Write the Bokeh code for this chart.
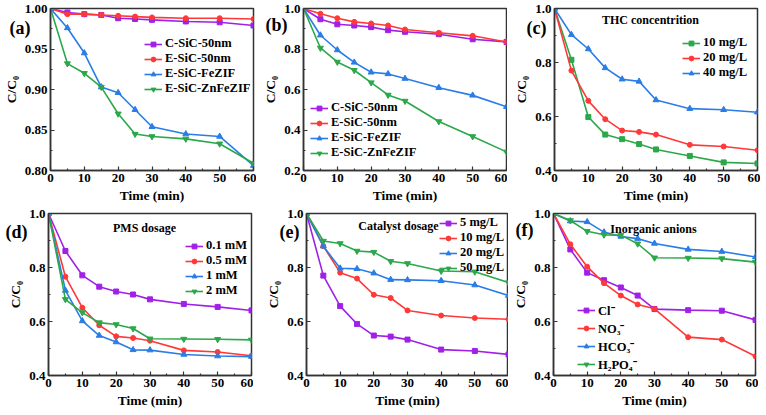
from bokeh.plotting import figure
from bokeh.models import Legend, LegendItem, Label, Title, FixedTicker, NumeralTickFormatter, Range1d
from bokeh.layouts import column, row
from bokeh.embed import file_html
from bokeh.resources import INLINE

FONT = "Liberation Serif"

time_min = [0, 5, 10, 15, 20, 25, 30, 40, 50, 60]

# (a)
a_labels = ["C-SiC-50nm", "E-SiC-50nm", "E-SiC-FeZIF", "E-SiC-ZnFeZIF"]
a_csic = [1.000, 0.995, 0.993, 0.992, 0.988, 0.987, 0.986, 0.984, 0.983, 0.979]
a_esic = [1.000, 0.993, 0.993, 0.992, 0.991, 0.990, 0.989, 0.988, 0.988, 0.987]
a_fezif = [1.000, 0.976, 0.945, 0.903, 0.896, 0.875, 0.854, 0.845, 0.842, 0.806]
a_znfezif = [1.000, 0.932, 0.920, 0.903, 0.870, 0.845, 0.842, 0.839, 0.833, 0.809]

# (b)
b_labels = ["C-SiC-50nm", "E-SiC-50nm", "E-SiC-FeZIF", "E-SiC-ZnFeZIF"]
b_csic = [1.000, 0.947, 0.922, 0.916, 0.908, 0.893, 0.885, 0.873, 0.848, 0.835]
b_esic = [1.000, 0.974, 0.952, 0.934, 0.926, 0.916, 0.896, 0.880, 0.865, 0.835]
b_fezif = [1.000, 0.868, 0.795, 0.734, 0.685, 0.677, 0.654, 0.609, 0.571, 0.515]
b_znfezif = [1.000, 0.805, 0.736, 0.695, 0.634, 0.573, 0.543, 0.442, 0.368, 0.292]

# (c) THC concentration
c_labels = ["10 mg/L", "20 mg/L", "40 mg/L"]
c_10 = [1.000, 0.810, 0.598, 0.533, 0.516, 0.498, 0.478, 0.454, 0.430, 0.426]
c_20 = [1.000, 0.770, 0.658, 0.590, 0.548, 0.543, 0.533, 0.495, 0.489, 0.475]
c_40 = [1.000, 0.903, 0.850, 0.780, 0.738, 0.730, 0.661, 0.629, 0.625, 0.616]

# (d) PMS dosage
d_labels = ["0.1 mM", "0.5 mM", "1 mM", "2 mM"]
d_01 = [1.000, 0.861, 0.771, 0.729, 0.711, 0.700, 0.682, 0.665, 0.654, 0.641]
d_05 = [1.000, 0.766, 0.651, 0.586, 0.545, 0.539, 0.529, 0.493, 0.487, 0.473]
d_1 = [1.000, 0.715, 0.602, 0.548, 0.524, 0.495, 0.494, 0.478, 0.472, 0.470]
d_2 = [1.000, 0.682, 0.633, 0.596, 0.589, 0.574, 0.536, 0.535, 0.534, 0.532]

# (e) Catalyst dosage
e_labels = ["5 mg/L", "10 mg/L", "20 mg/L", "50 mg/L"]
e_5 = [1.000, 0.770, 0.657, 0.591, 0.548, 0.544, 0.533, 0.496, 0.491, 0.478]
e_10 = [1.000, 0.879, 0.781, 0.759, 0.699, 0.687, 0.641, 0.622, 0.613, 0.608]
e_20 = [1.000, 0.879, 0.797, 0.795, 0.779, 0.755, 0.754, 0.751, 0.735, 0.696]
e_50 = [1.000, 0.898, 0.889, 0.861, 0.857, 0.823, 0.815, 0.787, 0.784, 0.744]

# (f) Inorganic anions
f_labels = ["Cl\u207b", "NO\u2083\u207b", "HCO\u2083\u207b", "H\u2082PO\u2084\u207b"]
f_cl = [1.000, 0.867, 0.781, 0.753, 0.726, 0.696, 0.646, 0.642, 0.640, 0.606]
f_no3 = [1.000, 0.886, 0.803, 0.742, 0.696, 0.663, 0.647, 0.542, 0.533, 0.471]
f_hco3 = [1.000, 0.972, 0.969, 0.931, 0.915, 0.907, 0.889, 0.867, 0.859, 0.839]
f_h2po4 = [1.000, 0.974, 0.934, 0.921, 0.920, 0.888, 0.836, 0.835, 0.833, 0.820]

x_ticks = [0, 10, 20, 30, 40, 50, 60]
x_minor = [5, 15, 25, 35, 45, 55]

PURPLE = "#A020E8"
RED = "#FF3838"
BLUE = "#2A7DE6"
GREEN = "#2BA84A"

STY = {
    "purple": (PURPLE, "square", 5),
    "red": (RED, "circle", 5),
    "blue": (BLUE, "triangle", 6),
    "green": (GREEN, "inverted_triangle", 6),
    "green_sq": (GREEN, "square", 5),
}


def panel(tag, series, labels, styles, ylim, yticks, yminor, yfmt,
          leg_x, leg_y, leg_h, lab_dx, lab_dy, title=None, title_x=0, title_dy=0,
          fw=203, fh=162, bl=47, br=3, bt=8, bb=35):
    p = figure(frame_width=fw, frame_height=fh, output_backend="svg",
               toolbar_location=None, min_border_left=bl, min_border_right=br,
               min_border_top=bt, min_border_bottom=bb,
               x_range=Range1d(0, 60), y_range=Range1d(*ylim))
    p.background_fill_color = "white"
    p.border_fill_color = "white"
    p.grid.visible = False
    p.outline_line_color = "#333333"
    p.outline_line_width = 1.5
    p.xaxis.ticker = FixedTicker(ticks=x_ticks, minor_ticks=x_minor)
    p.yaxis.ticker = FixedTicker(ticks=yticks, minor_ticks=yminor)
    p.yaxis.formatter = NumeralTickFormatter(format=yfmt)
    p.xaxis.axis_label = "Time (min)"
    p.yaxis.axis_label = "C/C\u2080"
    for ax in (p.xaxis[0], p.yaxis[0]):
        ax.axis_line_color = "#333333"
        ax.axis_line_width = 1.5
        ax.major_tick_in = 4
        ax.major_tick_out = 0
        ax.minor_tick_in = 2
        ax.minor_tick_out = 0
        ax.major_tick_line_color = "#333333"
        ax.minor_tick_line_color = "#333333"
        ax.major_tick_line_width = 1.2
        ax.minor_tick_line_width = 1.2
        ax.major_label_text_font = FONT
        ax.major_label_text_font_style = "bold"
        ax.major_label_text_font_size = "13px"
        ax.major_label_text_color = "black"
        ax.axis_label_text_font = FONT
        ax.axis_label_text_font_style = "bold"
        ax.axis_label_text_font_size = "13.5px"
        ax.axis_label_text_color = "black"
        ax.major_label_standoff = 3
        ax.axis_label_standoff = 3
    items = []
    for ys, lab, sk in zip(series, labels, styles):
        col, mk, sz = STY[sk]
        l = p.line(time_min, ys, line_color=col, line_width=1.6)
        s = p.scatter(time_min, ys, marker=mk, size=sz, fill_color=col, line_color=col)
        items.append(LegendItem(label=lab, renderers=[l, s]))
    leg = Legend(items=items, location=(leg_x, leg_y))
    leg.background_fill_alpha = 0
    leg.border_line_alpha = 0
    leg.padding = 0
    leg.margin = 0
    leg.spacing = 0
    leg.glyph_width = 18
    leg.glyph_height = 12
    leg.label_height = leg_h
    leg.label_standoff = 3
    leg.label_text_font = FONT
    leg.label_text_font_style = "bold"
    leg.label_text_font_size = "12.5px"
    leg.label_text_color = "black"
    leg.label_text_baseline = "middle"
    p.add_layout(leg)
    # panel tag, placed through a title so it can sit outside the frame
    t = Title(text=tag, align="left", offset=lab_dx, standoff=-2 * (lab_dy + 6),
              vertical_align="bottom", text_font=FONT, text_font_style="bold",
              text_font_size="18px", text_color="black")
    p.add_layout(t, "above")
    if title:
        p.add_layout(Label(x=title_x, y=fh - title_dy, x_units="screen", y_units="screen",
                           text=title, text_font=FONT, text_font_style="bold",
                           text_font_size="12px", text_align="center",
                           text_baseline="middle", text_color="black"))
    return p


yt_a = [0.80, 0.85, 0.90, 0.95, 1.00]
ym_a = [0.825, 0.875, 0.925, 0.975]
yt_b = [0.2, 0.4, 0.6, 0.8, 1.0]
ym_b = [0.3, 0.5, 0.7, 0.9]
yt_c = [0.4, 0.6, 0.8, 1.0]
ym_c = [0.5, 0.7, 0.9]

pa = panel("(a)", [a_csic, a_esic, a_fezif, a_znfezif], a_labels,
           ["purple", "red", "blue", "green"], (0.80, 1.00), yt_a, ym_a, "0.00",
           94, 74, 14, -41, 23)
pb = panel("(b)", [b_csic, b_esic, b_fezif, b_znfezif], b_labels,
           ["purple", "red", "blue", "green"], (0.2, 1.0), yt_b, ym_b, "0.0",
           7, 10, 15, -38, 20, br=1)
pc = panel("(c)", [c_10, c_20, c_40], c_labels,
           ["green_sq", "red", "blue"], (0.4, 1.0), yt_c, ym_c, "0.0",
           128, 90, 15, -28, 23, "THC concentrition", 96, 11)
pd_ = panel("(d)", [d_01, d_05, d_1, d_2], d_labels,
            ["purple", "red", "blue", "green"], (0.4, 1.0), yt_c, ym_c, "0.0",
            137, 77, 15, -43, 22, "PMS dosage", 96, 14, bl=48, br=2)
pe = panel("(e)", [e_5, e_10, e_20, e_50], e_labels,
           ["purple", "red", "blue", "green"], (0.4, 1.0), yt_c, ym_c, "0.0",
           133, 100, 15, -27, 22, "Catalyst dosage", 92, 12, bl=53, fw=202, br=0)
pf = panel("(f)", [f_cl, f_no3, f_hco3, f_h2po4], f_labels,
           ["purple", "red", "blue", "green"], (0.4, 1.0), yt_c, ym_c, "0.0",
           24, 2, 18, -38, 20, "Inorganic anions", 100, 15, bl=45, fw=202, br=3)

layout = column(row(pa, pb, pc), row(pd_, pe, pf))
open("out.html", "w").write(file_html(layout, INLINE))
